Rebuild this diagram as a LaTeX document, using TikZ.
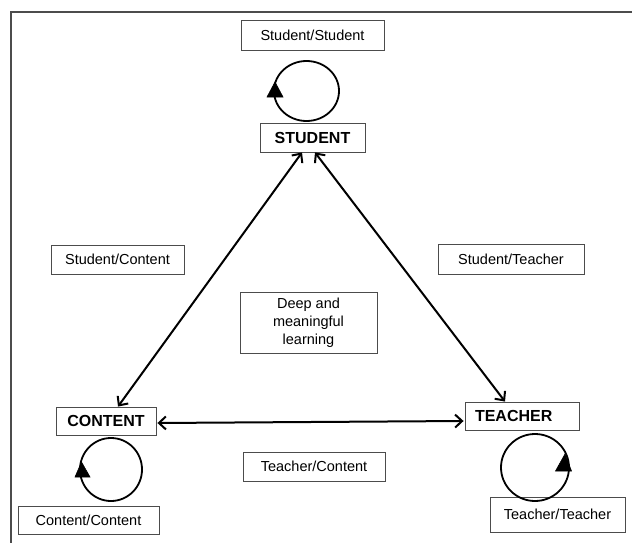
\documentclass[tikz,border=0pt]{standalone}
\usepackage{fontspec}
\setmainfont{Liberation Sans}
\usetikzlibrary{arrows.meta,calc}
\begin{document}
\begin{tikzpicture}[x=1pt,y=-1pt,
 box/.style={draw=black!70, line width=0.9pt, inner sep=0pt, font=\fontsize{14.5}{18}\selectfont, align=center},
 bbox/.style={box, font=\fontsize{16}{18}\selectfont\bfseries},
 link/.style={line width=2pt, {Straight Barb[length=7pt,width=13pt]}-{Straight Barb[length=7pt,width=13pt]}},
 loopline/.style={line width=1.8pt},
 loophead/.style={fill=black, draw=black, line width=0.6pt, line join=miter},
 frame/.style={draw=black!70, line width=1.6pt}]
\useasboundingbox (0,0) rectangle (632,543);
% frame (top and left edges visible)
\coordinate (fa) at (11,543);
\coordinate (fb) at (11,12);
\coordinate (fc) at (632,12);
\draw[frame] (fa) -- (fb) -- (fc);

% main nodes
\node[bbox, minimum width=105pt, minimum height=29pt] (student) at (312.5,137.5) {STUDENT};
\node[bbox, minimum width=100pt, minimum height=28pt] (content) at (106,421) {CONTENT};
\node[bbox, minimum width=114pt, minimum height=28pt, text width=94pt, inner xsep=10pt, align=left] (teacher) at (522,416) {TEACHER};

% label boxes
\node[box, minimum width=143pt, minimum height=30pt] (ss) at (312.5,35) {Student/Student};
\node[box, minimum width=141pt, minimum height=28pt] (cc) at (88.5,520) {Content/Content};
\node[box, minimum width=135pt, minimum height=35pt] (tt) at (557.5,514.5) {Teacher/Teacher};
\node[box, minimum width=133pt, minimum height=29pt] (sc) at (117.5,259.5) {Student/Content};
\node[box, minimum width=146pt, minimum height=30pt] (st) at (511,259) {Student/Teacher};
\node[box, minimum width=142pt, minimum height=29pt] (tc) at (314,466.5) {Teacher/Content};
\node[box, minimum width=137pt, minimum height=61pt] (deep) at (308.5,322.5) {Deep and\\meaningful\\learning};

% connectors
\draw[link] ([xshift=-10.5pt]student.south) -- ([xshift=12pt]content.north);
\draw[link] ([xshift=2.5pt]student.south) -- ([xshift=-17pt]teacher.north);
\draw[link] ([xshift=1pt,yshift=-2pt]content.east) -- ([xshift=-1pt,yshift=-5pt]teacher.west);

% self loops
\coordinate (ls) at (306.5,91);
\coordinate (lc) at (111,469.5);
\coordinate (lt) at (535,467.5);
\draw[loopline] (ls) ellipse [x radius=32.5pt, y radius=30pt];
\draw[loopline] (lc) ellipse [x radius=31pt, y radius=31.5pt];
\draw[loopline] (lt) ellipse [x radius=34pt, y radius=33.5pt];
% loop arrowheads (pointing up)
\coordinate (sa) at (275,82);
\coordinate (sb) at (267,97);
\coordinate (sc2) at (283,97);
\fill[loophead] (sa) -- (sb) -- (sc2) -- cycle;
\coordinate (ca) at (81.5,462);
\coordinate (cb) at (75,477);
\coordinate (cc2) at (90,477);
\fill[loophead] (ca) -- (cb) -- (cc2) -- cycle;
\coordinate (ta) at (565,454);
\coordinate (tb) at (555.5,471);
\coordinate (tc2) at (571.5,471);
\fill[loophead] (ta) -- (tb) -- (tc2) -- cycle;
\end{tikzpicture}
\end{document}
